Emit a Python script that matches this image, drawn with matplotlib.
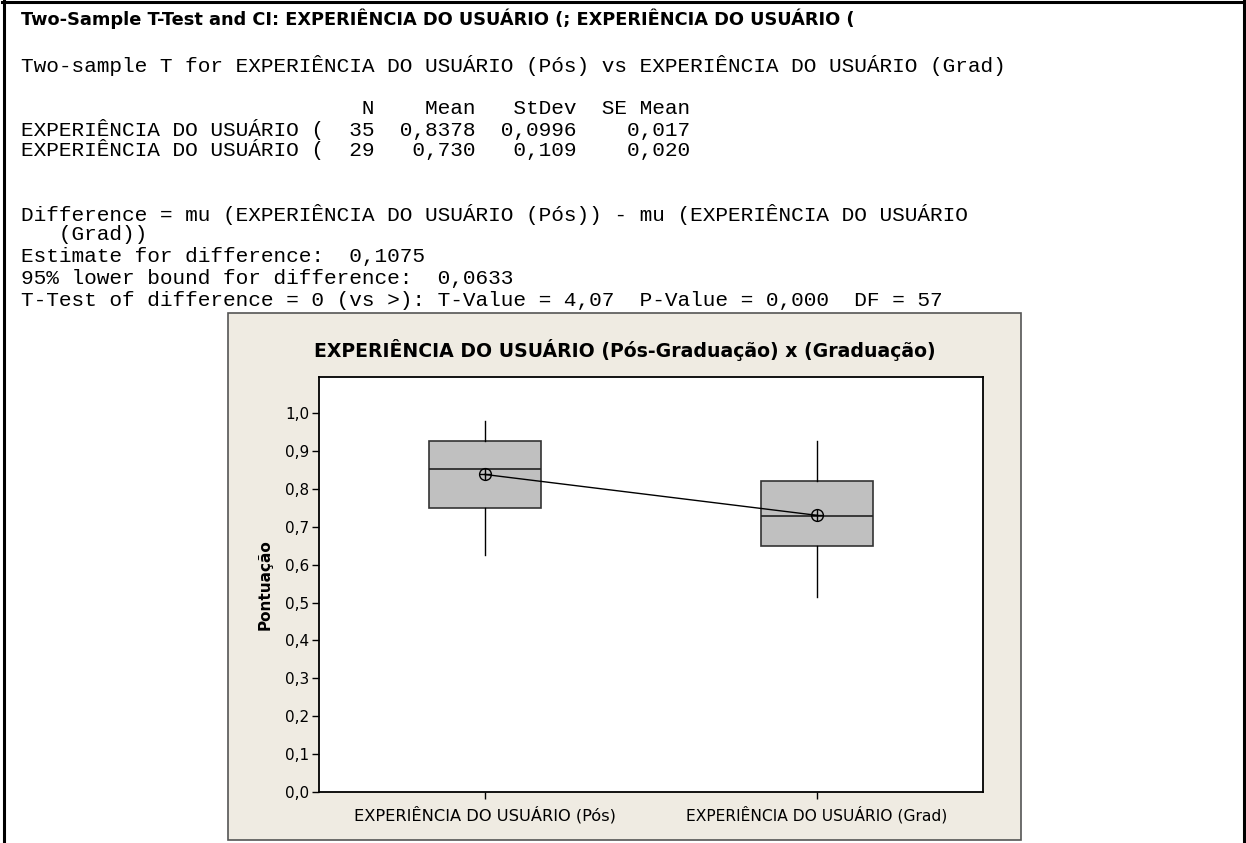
import matplotlib
matplotlib.use("Agg")
import matplotlib.pyplot as plt
from matplotlib.patches import Rectangle
from matplotlib.lines import Line2D

# ---------------- data ----------------
session_title = "Two-Sample T-Test and CI: EXPERIÊNCIA DO USUÁRIO (; EXPERIÊNCIA DO USUÁRIO ("
session_lines = [
    "Two-sample T for EXPERIÊNCIA DO USUÁRIO (Pós) vs EXPERIÊNCIA DO USUÁRIO (Grad)",
    "                           N    Mean   StDev  SE Mean",
    "EXPERIÊNCIA DO USUÁRIO (  35  0,8378  0,0996    0,017",
    "EXPERIÊNCIA DO USUÁRIO (  29   0,730   0,109    0,020",
    "Difference = mu (EXPERIÊNCIA DO USUÁRIO (Pós)) - mu (EXPERIÊNCIA DO USUÁRIO",
    "   (Grad))",
    "Estimate for difference:  0,1075",
    "95% lower bound for difference:  0,0633",
    "T-Test of difference = 0 (vs >): T-Value = 4,07  P-Value = 0,000  DF = 57",
]
chart_title = "EXPERIÊNCIA DO USUÁRIO (Pós-Graduação) x (Graduação)"
y_label = "Pontuação"
categories = ["EXPERIÊNCIA DO USUÁRIO (Pós)", "EXPERIÊNCIA DO USUÁRIO (Grad)"]
whisker_low = [0.625, 0.515]
q1 = [0.749, 0.650]
median = [0.853, 0.729]
q3 = [0.926, 0.821]
whisker_high = [0.980, 0.926]
means = [0.8378, 0.730]
yticks = [0.0, 0.1, 0.2, 0.3, 0.4, 0.5, 0.6, 0.7, 0.8, 0.9, 1.0]
ytick_labels = ["0,0", "0,1", "0,2", "0,3", "0,4", "0,5", "0,6", "0,7", "0,8", "0,9", "1,0"]

# ---------------- layout ----------------
W, H = 1246, 843
DPI = 100
fig = plt.figure(figsize=(W / DPI, H / DPI), dpi=DPI)
fig.patch.set_facecolor("white")


def fx(x):
    return x / W


def fy(y):
    return 1 - y / H


renderer = fig.canvas.get_renderer()


def fit_width(t, width_px):
    w = t.get_window_extent(renderer).width
    t.set_fontsize(t.get_fontsize() * width_px / w)


# outer document frame
fig.add_artist(Line2D([fx(4), fx(4)], [fy(0), fy(H)], color="black", lw=2.2))
fig.add_artist(Line2D([fx(2), fx(1244)], [fy(1.5), fy(1.5)], color="black", lw=2.2))
fig.add_artist(Line2D([fx(1243.5), fx(1243.5)], [fy(0), fy(H)], color="black", lw=2.2))

# session text
t = fig.text(fx(21), fy(19), session_title, fontsize=12, fontweight="bold",
             family="DejaVu Sans", va="center", ha="left")
fit_width(t, 828)

line_y = [65, 108, 129, 150, 214, 235, 257, 278, 300]
for s, y in zip(session_lines, line_y):
    tl = fig.text(fx(21), fy(y), s, fontsize=14, family="Liberation Mono",
                  va="center", ha="left")
    fit_width(tl, 12.75 * len(s))

# chart panel
fig.add_artist(Rectangle((fx(228), fy(840)), fx(1021) - fx(228), fy(313) - fy(840),
                         transform=fig.transFigure, facecolor="#EFEBE2",
                         edgecolor="#555555", lw=1.2, zorder=0))

ax_l, ax_r, ax_t, ax_b = 319, 983, 377, 792
ax = fig.add_axes([fx(ax_l), fy(ax_b), fx(ax_r) - fx(ax_l), fy(ax_t) - fy(ax_b)])
ax.set_facecolor("white")

positions = list(range(1, len(categories) + 1))
stats = []
for i in range(len(categories)):
    stats.append(dict(med=median[i], q1=q1[i], q3=q3[i],
                      whislo=whisker_low[i], whishi=whisker_high[i], fliers=[]))
ax.bxp(stats, positions=positions, widths=0.34, showcaps=False, patch_artist=True,
       boxprops=dict(facecolor="#C0C0C0", edgecolor="#333333", linewidth=1.2),
       medianprops=dict(color="#222222", linewidth=1.2),
       whiskerprops=dict(color="black", linewidth=1.0))

ax.plot(positions, means, color="black", lw=1.0, zorder=5)
ax.plot(positions, means, linestyle="none", marker="o", markersize=8.5,
        markerfacecolor="none", markeredgecolor="black", markeredgewidth=1.0, zorder=6)
ax.plot(positions, means, linestyle="none", marker="+", markersize=8.5,
        markeredgecolor="black", markeredgewidth=1.0, zorder=6)

ax.set_xlim(0.5, 2.5)
ax.set_ylim(0, 1.095)
ax.set_yticks(yticks)
ax.set_yticklabels(ytick_labels, family="DejaVu Sans", fontsize=11)
ax.set_xticks(positions)
xt = ax.set_xticklabels(categories, family="DejaVu Sans", fontsize=11)
ax.tick_params(axis="y", direction="out", length=5, width=1, pad=2, colors="black")
ax.tick_params(axis="x", direction="out", length=5, width=1, pad=5, colors="black")
for sp in ax.spines.values():
    sp.set_color("black")
    sp.set_linewidth(1.3)

for lab in xt:
    fit_width(lab, 262)

tt = fig.text(fx(625), fy(350), chart_title, fontsize=13, fontweight="bold",
              family="DejaVu Sans", ha="center", va="center")
fit_width(tt, 617)

fig.text(fx(265), fy(585), y_label, rotation=90, fontsize=11, fontweight="bold",
         family="DejaVu Sans", ha="center", va="center")

fig.savefig("out.png", dpi=DPI, facecolor="white")
